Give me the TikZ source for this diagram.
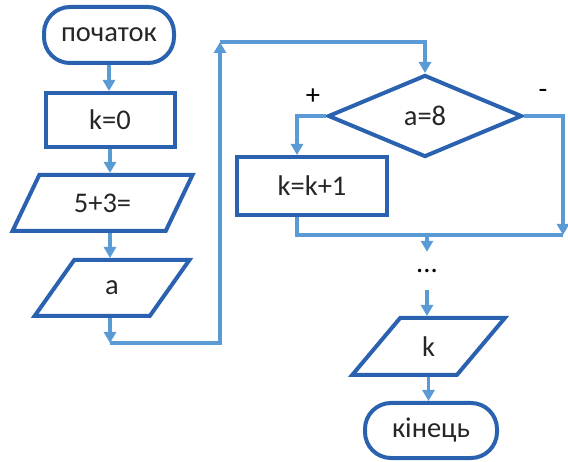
\documentclass[tikz,border=0pt]{standalone}
\usepackage{fontspec}
\setmainfont{Carlito}
\usetikzlibrary{shapes.geometric,arrows.meta}
\definecolor{boxblue}{HTML}{2A62B0}
\definecolor{lineblue}{HTML}{5B9BD5}

\begin{document}
\begin{tikzpicture}[x=1pt,y=-1pt,
    font=\fontsize{28.5}{33}\selectfont,
    box/.style={draw=boxblue,line width=4pt,text=black!85,inner sep=0pt},
    term/.style={box,rectangle,rounded corners=26pt},
    proc/.style={box,rectangle},
    io/.style={box,trapezium,trapezium stretches=true},
    cond/.style={box,diamond},
    flow/.style={draw=lineblue,line width=3.2pt},
    arr/.style={flow,-{Triangle[length=11pt,width=12pt]}}]
    \useasboundingbox (0,0) rectangle (568,462);

    \node[term,minimum width=130pt,minimum height=56pt] (start) at (109,35) {початок};
    \node[proc,minimum width=129pt,minimum height=54pt] (k0) at (110,120) {k=0};
    \node[io,trapezium left angle=57,trapezium right angle=123,
          minimum width=181pt,minimum height=56pt] (in53) at (102.5,203) {5+3=};
    \node[io,trapezium left angle=63,trapezium right angle=117,
          minimum width=155pt,minimum height=56pt] (ina) at (112,288) {a};
    \node[cond,minimum width=194pt,minimum height=82pt] (test) at (425,116) {a=8};
    \node[proc,minimum width=150pt,minimum height=58pt] (inc) at (312,186) {k=k+1};
    \node[minimum height=38pt,inner sep=0pt] (dots) at (427,271) {...};
    \node[io,trapezium left angle=61,trapezium right angle=119,
          minimum width=153pt,minimum height=57pt] (outk) at (428.5,346.5) {k};
    \node[term,minimum width=132pt,minimum height=55pt] (end) at (431,430.5) {кінець};

    \node (plus) at (313,97) {+};
    \node (minus) at (543,94) {-};

    \coordinate (c1) at (110,343);
    \coordinate (c2) at (220,343);
    \coordinate (c3) at (220,42);
    \coordinate (pl) at (297,116);
    \coordinate (ml) at (297,235);
    \coordinate (mr) at (563,235);

    \draw[arr] (start.south) -- (start.south |- k0.north);
    \draw[arr] (k0.south) -- (k0.south |- in53.north);
    \draw[arr] (k0.south |- in53.south) -- (k0.south |- ina.north);
    \draw[arr] (k0.south |- ina.south) -- (c1);
    \draw[arr] (c1) -- (c2) -- (c3);
    \draw[arr] (c3) -| (test.north);
    \draw[arr] (test.west) -- (pl) -- (pl |- inc.north);
    \draw[flow] (pl |- inc.south) -- (ml) -- (mr);
    \draw[arr] (test.east) -| (mr);
    \draw[arr] (dots |- ml) -- (dots.north);
    \draw[arr] (dots.south) -- (dots.south |- outk.north);
    \draw[arr] (outk.south) -- (outk.south |- end.north);
\end{tikzpicture}
\end{document}
